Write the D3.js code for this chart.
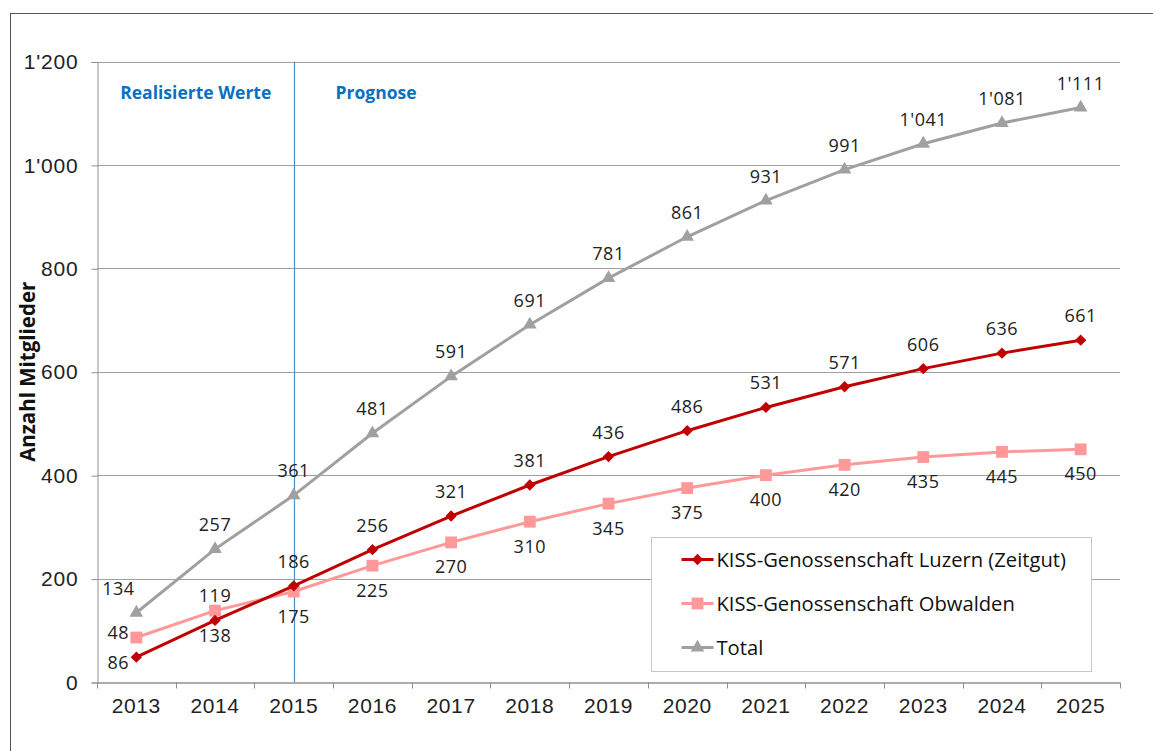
<!DOCTYPE html>
<html>
<head>
<meta charset="utf-8">
<script src="https://cdn.jsdelivr.net/npm/d3@7"></script>
<style>
body { margin: 0; background: #fff; }
svg { font-family: "Open Sans", "Noto Sans", sans-serif; }
</style>
</head>
<body>
<svg width="1153" height="751"></svg>
<script>

// DATA
var years = ["2013", "2014", "2015", "2016", "2017", "2018", "2019", "2020", "2021", "2022", "2023", "2024", "2025"];
var luzern = [48, 119, 186, 256, 321, 381, 436, 486, 531, 571, 606, 636, 661];
var obwalden = [86, 138, 175, 225, 270, 310, 345, 375, 400, 420, 435, 445, 450];
var total = [134, 257, 361, 481, 591, 691, 781, 861, 931, 991, 1041, 1081, 1111];
var yTicks = [0, 200, 400, 600, 800, 1000, 1200];
var seriesNames = ["KISS-Genossenschaft Luzern (Zeitgut)", "KISS-Genossenschaft Obwalden", "Total"];
var splitYear = "2015";

var svg = d3.select("svg"),
    width = +svg.attr("width"),
    height = +svg.attr("height");

var margin = {left: 97, right: 33, top: 61.5, bottom: 69};

var locale = d3.formatLocale({decimal: ".", thousands: "'", grouping: [3], currency: ["", ""]});
var fmt = locale.format(",");

// outer frame (cut off by the picture at right and bottom)
svg.append("rect")
    .attr("x", 10.5).attr("y", 13.5)
    .attr("width", 1160).attr("height", 760)
    .attr("fill", "none").attr("stroke", "#555").attr("stroke-width", 1);

var x = d3.scaleBand()
    .domain(years)
    .range([margin.left, width - margin.right]);

var y = d3.scaleLinear()
    .domain([0, 1200])
    .range([height - margin.bottom, margin.top]);

function cx(i) { return x(years[i]) + x.bandwidth() / 2; }

// gridlines
svg.append("g")
    .selectAll("line")
    .data(yTicks.filter(function (d) { return d > 0; }))
    .enter().append("line")
    .attr("x1", margin.left).attr("x2", width - margin.right)
    .attr("y1", function (d) { return Math.round(y(d)) + 0.5; })
    .attr("y2", function (d) { return Math.round(y(d)) + 0.5; })
    .attr("stroke", "#a0a0a0").attr("stroke-width", 1);

// y axis
var yAxis = d3.axisLeft(y)
    .tickValues(yTicks)
    .tickSize(6)
    .tickPadding(13)
    .tickFormat(fmt);

var gY = svg.append("g")
    .attr("transform", "translate(" + (margin.left + 0.5) + ",0.5)")
    .call(yAxis);
gY.select(".domain").attr("stroke", "#909090");
gY.selectAll(".tick line").attr("stroke", "#909090");
gY.selectAll(".tick text").attr("font-size", 21).attr("letter-spacing", 0.8).attr("fill", "#222");

// x axis
var xAxis = d3.axisBottom(x)
    .tickSize(0)
    .tickPadding(16);

var gX = svg.append("g")
    .attr("transform", "translate(0," + (Math.round(y(0)) + 0.5) + ")")
    .call(xAxis);
gX.select(".domain").attr("stroke", "#909090").attr("stroke-width", 1.5);
gX.selectAll(".tick text").attr("font-size", 21).attr("letter-spacing", 0.6).attr("fill", "#222");

// x tick marks between categories
var bounds = years.map(function (d) { return x(d); }).concat([x(years[years.length - 1]) + x.bandwidth()]);
gX.append("g").selectAll("line")
    .data(bounds)
    .enter().append("line")
    .attr("x1", function (d) { return Math.round(d) + 0.5; })
    .attr("x2", function (d) { return Math.round(d) + 0.5; })
    .attr("y1", 0).attr("y2", 6)
    .attr("stroke", "#909090");

// axis title
svg.append("text")
    .attr("transform", "translate(35," + (y(600) + 0) + ") rotate(-90)")
    .attr("text-anchor", "middle")
    .attr("font-size", 20.5).attr("font-weight", "bold").attr("fill", "#111")
    .text("Anzahl Mitglieder");

// split line realised / forecast
var splitX = Math.round(x(splitYear) + x.bandwidth() / 2) + 0.5;
svg.append("line")
    .attr("x1", splitX).attr("x2", splitX)
    .attr("y1", y(1200)).attr("y2", y(0))
    .attr("stroke", "#4a90d0").attr("stroke-width", 1.2);

svg.append("text")
    .attr("x", (margin.left + splitX) / 2).attr("y", 99)
    .attr("text-anchor", "middle")
    .attr("font-size", 17.5).attr("font-weight", "bold").attr("fill", "#0a70c0")
    .text("Realisierte Werte");
svg.append("text")
    .attr("x", splitX + 41).attr("y", 99)
    .attr("font-size", 17.5).attr("font-weight", "bold").attr("fill", "#0a70c0")
    .text("Prognose");

var series = [
    {name: seriesNames[0], values: luzern, color: "#c00000", symbol: d3.symbolSquare, size: 64, rotate: 45, labelDy: -18},
    {name: seriesNames[1], values: obwalden, color: "#ff9999", symbol: d3.symbolSquare, size: 140, rotate: 0, labelDy: 31},
    {name: seriesNames[2], values: total, color: "#a0a0a0", symbol: d3.symbolTriangle, size: 80, rotate: 0, labelDy: -18}
];

var line = d3.line()
    .x(function (d, i) { return cx(i); })
    .y(function (d) { return y(d); });

// draw order: total, obwalden, luzern on top
[series[2], series[1], series[0]].forEach(function (s) {
    svg.append("path")
        .attr("d", line(s.values))
        .attr("fill", "none")
        .attr("stroke", s.color)
        .attr("stroke-width", 3);

    svg.append("g").selectAll("path")
        .data(s.values)
        .enter().append("path")
        .attr("d", d3.symbol().type(s.symbol).size(s.size))
        .attr("transform", function (d, i) { return "translate(" + cx(i) + "," + y(d) + ") rotate(" + s.rotate + ")"; })
        .attr("fill", s.color);
});

series.forEach(function (s) {
    svg.append("g").selectAll("text")
        .data(s.values)
        .enter().append("text")
        .attr("x", function (d, i) { return cx(i) + (i === 0 ? -18 : 0); })
        .attr("y", function (d) { return y(d) + s.labelDy; })
        .attr("text-anchor", "middle")
        .attr("font-size", 18).attr("letter-spacing", 0.5).attr("fill", "#222")
        .text(function (d) { return fmt(d); });
});

// legend
var legend = svg.append("g").attr("transform", "translate(651.5,537.5)");
legend.append("rect")
    .attr("width", 440).attr("height", 134)
    .attr("fill", "#fff").attr("stroke", "#c8c8c8");

var rows = legend.selectAll(".row")
    .data(series)
    .enter().append("g")
    .attr("class", "row")
    .attr("transform", function (d, i) { return "translate(0," + (22 + i * 44) + ")"; });

rows.append("line")
    .attr("x1", 30).attr("x2", 62)
    .attr("stroke", function (d) { return d.color; })
    .attr("stroke-width", 3);
rows.append("path")
    .attr("d", function (d) { return d3.symbol().type(d.symbol).size(d.size)(); })
    .attr("transform", function (d) { return "translate(46,0) rotate(" + d.rotate + ")"; })
    .attr("fill", function (d) { return d.color; });
rows.append("text")
    .attr("x", 65).attr("y", 7.5)
    .attr("font-size", 20.2).attr("fill", "#111")
    .text(function (d) { return d.name; });

</script>
</body>
</html>
